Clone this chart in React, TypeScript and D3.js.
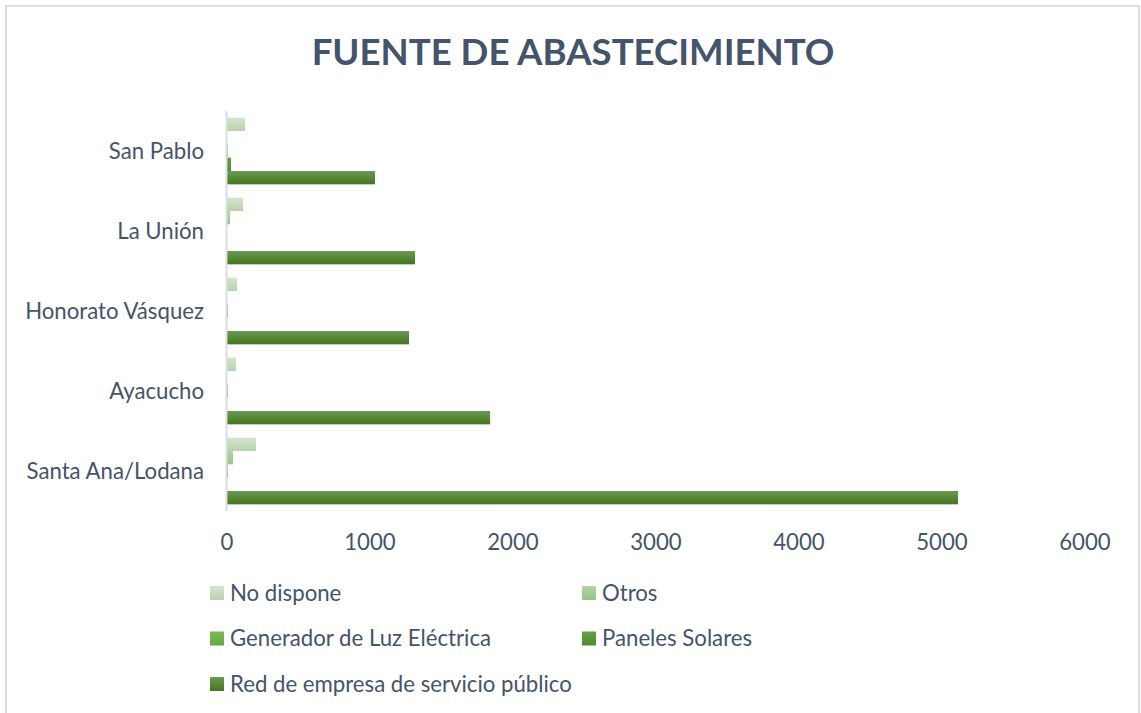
import React, { useEffect, useRef } from 'react'
import * as d3 from 'd3'

const categories = ['San Pablo', 'La Unión', 'Honorato Vásquez', 'Ayacucho', 'Santa Ana/Lodana']
const seriesNames = ['No dispone', 'Otros', 'Generador de Luz Eléctrica', 'Paneles Solares', 'Red de empresa de servicio público']
// values per series, in the order of categories
const noDispone = [126, 112, 70, 63, 203]
const otros = [0, 21, 0, 0, 42]
const generador = [5, 0, 6, 6, 6]
const paneles = [28, 0, 0, 0, 0]
const redPublica = [1035, 1315, 1273, 1840, 5112]
const xTicks = [0, 1000, 2000, 3000, 4000, 5000, 6000]

const colorsTop = ['#d3e6cc', '#b3d5a4', '#7dba58', '#65a043', '#6b9a52']
const colorsBottom = ['#b9d2ae', '#98c386', '#64a83d', '#4f8c2c', '#44761f']

function App() {
  const svgRef = useRef<SVGSVGElement>(null)

  useEffect(() => {
    const W = 1141
    const H = 713
    const svg = d3.select(svgRef.current)
    svg.selectAll('*').remove()
    svg.attr('width', W).attr('height', H)

    const font = 'Lato, "Open Sans", sans-serif'
    const textColor = '#44546a'
    const values = [noDispone, otros, generador, paneles, redPublica]

    // gradients
    const defs = svg.append('defs')
    seriesNames.forEach((s, i) => {
      const g = defs.append('linearGradient')
        .attr('id', 'grad' + i)
        .attr('x1', 0).attr('y1', 0).attr('x2', 0).attr('y2', 1)
      g.append('stop').attr('offset', '0%').attr('stop-color', colorsTop[i])
      g.append('stop').attr('offset', '100%').attr('stop-color', colorsBottom[i])
    })

    // chart frame
    svg.append('rect')
      .attr('x', 6).attr('y', 6).attr('width', 1133).attr('height', 720)
      .attr('fill', 'white').attr('stroke', '#dadfe6').attr('stroke-width', 2)

    svg.append('text')
      .attr('x', 573).attr('y', 65)
      .attr('text-anchor', 'middle')
      .attr('font-family', font)
      .attr('font-weight', 'bold')
      .attr('font-size', 36.6)
      .attr('fill', textColor)
      .text('FUENTE DE ABASTECIMIENTO')

    const x = d3.scaleLinear().domain([0, 6000]).range([227, 1085])
    const y = d3.scaleBand().domain(categories).range([111, 511])
    const inner = d3.scaleBand().domain(seriesNames).range([0, y.bandwidth()]).paddingOuter(0.5)

    // bars
    seriesNames.forEach((s, si) => {
      svg.append('g')
        .selectAll('rect')
        .data(values[si])
        .join('rect')
        .attr('x', x(0))
        .attr('y', (d, i) => (y(categories[i]) as number) + (inner(s) as number))
        .attr('width', d => x(d) - x(0))
        .attr('height', inner.bandwidth())
        .attr('fill', `url(#grad${si})`)
    })

    // vertical axis line
    svg.append('line')
      .attr('x1', 226.5).attr('x2', 226.5)
      .attr('y1', 111).attr('y2', 511)
      .attr('stroke', '#d9dde4').attr('stroke-width', 2)

    // category labels
    svg.append('g')
      .selectAll('text')
      .data(categories)
      .join('text')
      .attr('x', 204)
      .attr('y', d => (y(d) as number) + y.bandwidth() / 2 + 7.5)
      .attr('text-anchor', 'end')
      .attr('font-family', font)
      .attr('font-size', 22.2)
      .attr('fill', textColor)
      .text(d => d)

    // x tick labels
    svg.append('g')
      .selectAll('text')
      .data(xTicks)
      .join('text')
      .attr('x', d => x(d))
      .attr('y', 550)
      .attr('text-anchor', 'middle')
      .attr('font-family', font)
      .attr('font-size', 22.2)
      .attr('fill', textColor)
      .text(d => String(d))

    // legend
    const legend = svg.append('g')
    seriesNames.forEach((s, i) => {
      const col = i % 2
      const row = Math.floor(i / 2)
      const lx = col === 0 ? 210 : 582
      const ly = 593 + row * 45.5
      legend.append('rect')
        .attr('x', lx).attr('y', ly - 7)
        .attr('width', 14).attr('height', 14)
        .attr('fill', `url(#grad${i})`)
      legend.append('text')
        .attr('x', lx + 20).attr('y', ly + 7.5)
        .attr('font-family', font)
        .attr('font-size', 22.2)
        .attr('fill', textColor)
        .text(s)
    })
  }, [])

  return (
    <svg ref={svgRef} style={{ position: 'absolute', left: 0, top: 0 }} />
  )
}

export default App
